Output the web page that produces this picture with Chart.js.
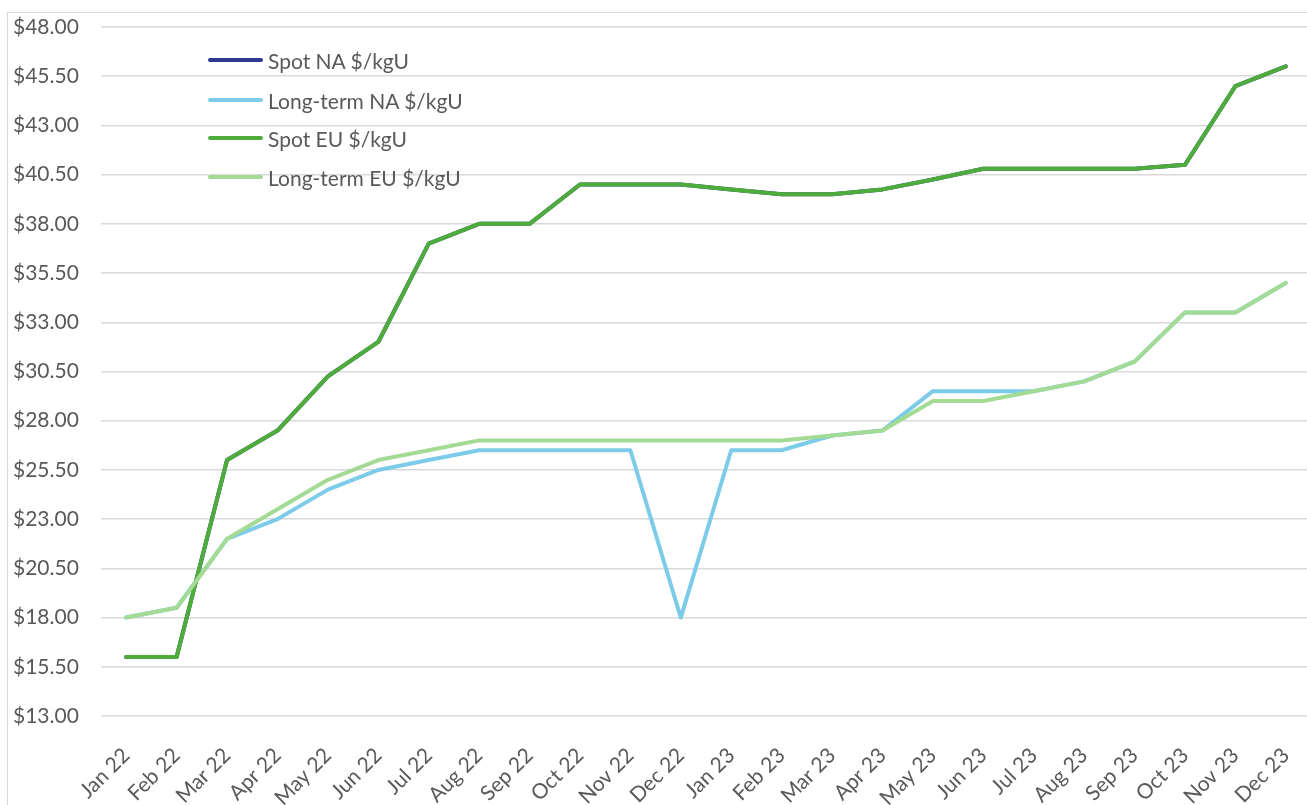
<!DOCTYPE html>
<html>
<head>
<meta charset="utf-8">
<script src="https://cdn.jsdelivr.net/npm/chart.js@4/dist/chart.umd.min.js"></script>
<style>
    body { margin: 0; background: #fff; overflow: hidden; width: 1307px; height: 805px; position: relative; }
    #frame { position: absolute; left: 7px; top: 12px; width: 1400px; height: 900px; border: 1.5px solid #d9d9d9; }
    #wrap { position: absolute; left: 0; top: 0; width: 1311px; height: 805px; }
    .legend-row { position: absolute; left: 208px; height: 30px; display: flex; align-items: center; font-family: Lato, sans-serif; font-size: 21px; color: #595959; }
    .legend-line { width: 55px; height: 4px; border-radius: 2px; margin-right: 5px; }
</style>
</head>
<body>
<div id="frame"></div>
<div id="wrap"><canvas id="chart"></canvas></div>
<div id="legend"></div>
<script>
const months = [
    'Jan 22', 'Feb 22', 'Mar 22', 'Apr 22', 'May 22', 'Jun 22', 'Jul 22', 'Aug 22', 'Sep 22', 'Oct 22', 'Nov 22', 'Dec 22',
    'Jan 23', 'Feb 23', 'Mar 23', 'Apr 23', 'May 23', 'Jun 23', 'Jul 23', 'Aug 23', 'Sep 23', 'Oct 23', 'Nov 23', 'Dec 23',
];

// spot NA sits exactly under spot EU in the picture
const spotNA = [16.0, 16.0, 26.0, 27.5, 30.25, 32.0, 37.0, 38.0, 38.0, 40.0, 40.0, 40.0, 39.75, 39.5, 39.5, 39.75, 40.25, 40.8, 40.8, 40.8, 40.8, 41.0, 45.0, 46.0];
const longTermNA = [18.0, 18.5, 22.0, 23.0, 24.5, 25.5, 26.0, 26.5, 26.5, 26.5, 26.5, 18.0, 26.5, 26.5, 27.25, 27.5, 29.5, 29.5, 29.5, 30.0, 31.0, 33.5, 33.5, 35.0];
const spotEU = [16.0, 16.0, 26.0, 27.5, 30.25, 32.0, 37.0, 38.0, 38.0, 40.0, 40.0, 40.0, 39.75, 39.5, 39.5, 39.75, 40.25, 40.8, 40.8, 40.8, 40.8, 41.0, 45.0, 46.0];
const longTermEU = [18.0, 18.5, 22.0, 23.5, 25.0, 26.0, 26.5, 27.0, 27.0, 27.0, 27.0, 27.0, 27.0, 27.0, 27.25, 27.5, 29.0, 29.0, 29.5, 30.0, 31.0, 33.5, 33.5, 35.0];

const seriesNames = ['Spot NA $/kgU', 'Long-term NA $/kgU', 'Spot EU $/kgU', 'Long-term EU $/kgU'];
const seriesColors = ['#2c3b8f', '#7ccbe8', '#4eac3b', '#a3da94'];
const seriesData = [spotNA, longTermNA, spotEU, longTermEU];

const yMin = 13;
const yMax = 48;
const yStep = 2.5;

const textColor = '#595959';
const fontFamily = 'Lato, sans-serif';

function buildLegend() {
    const legend = document.getElementById('legend');
    const rowTops = [45, 85, 123, 162];
    seriesNames.forEach((name, i) => {
        const row = document.createElement('div');
        row.className = 'legend-row';
        row.style.top = `${rowTops[i]}px`;
        const line = document.createElement('span');
        line.className = 'legend-line';
        line.style.background = seriesColors[i];
        const label = document.createElement('span');
        label.textContent = name;
        row.appendChild(line);
        row.appendChild(label);
        legend.appendChild(row);
    });
}

function buildChart() {
    const ctx = document.getElementById('chart').getContext('2d');
    // excel draws the last series on top
    const datasets = seriesNames.map((name, i) => ({
        label: name,
        data: seriesData[i],
        borderColor: seriesColors[i],
        backgroundColor: seriesColors[i],
        order: seriesNames.length - i,
    }));

    new Chart(ctx, {
        type: 'line',
        data: { labels: months, datasets },
        options: {
            responsive: true,
            maintainAspectRatio: false,
            animation: false,
            layout: { padding: { left: 13, top: 27, right: 0, bottom: 0 } },
            plugins: {
                legend: { display: false },
                tooltip: { enabled: false },
            },
            elements: {
                point: { radius: 0 },
                line: { borderWidth: 4, tension: 0, borderJoinStyle: 'round', borderCapStyle: 'round' },
            },
            scales: {
                x: {
                    offset: true,
                    grid: { display: false, offset: true },
                    border: { display: false },
                    ticks: {
                        color: textColor,
                        font: { family: fontFamily, size: 21 },
                        minRotation: 45,
                        maxRotation: 45,
                        autoSkip: false,
                        padding: 19,
                    },
                    afterFit(scale) {
                        scale.height = 89;
                        scale.paddingRight = 0;
                    },
                },
                y: {
                    min: yMin,
                    max: yMax,
                    grid: { color: '#d9d9d9', lineWidth: 1.5, drawTicks: false },
                    border: { display: false },
                    ticks: {
                        stepSize: yStep,
                        color: textColor,
                        font: { family: fontFamily, size: 21 },
                        crossAlign: 'far',
                        callback: (value) => `$${Number(value).toFixed(2)}`,
                    },
                    afterFit(scale) {
                        scale.width = 88;
                    },
                },
            },
        },
    });
}

document.addEventListener('DOMContentLoaded', () => {
    buildLegend();
    buildChart();
});
</script>
</body>
</html>
